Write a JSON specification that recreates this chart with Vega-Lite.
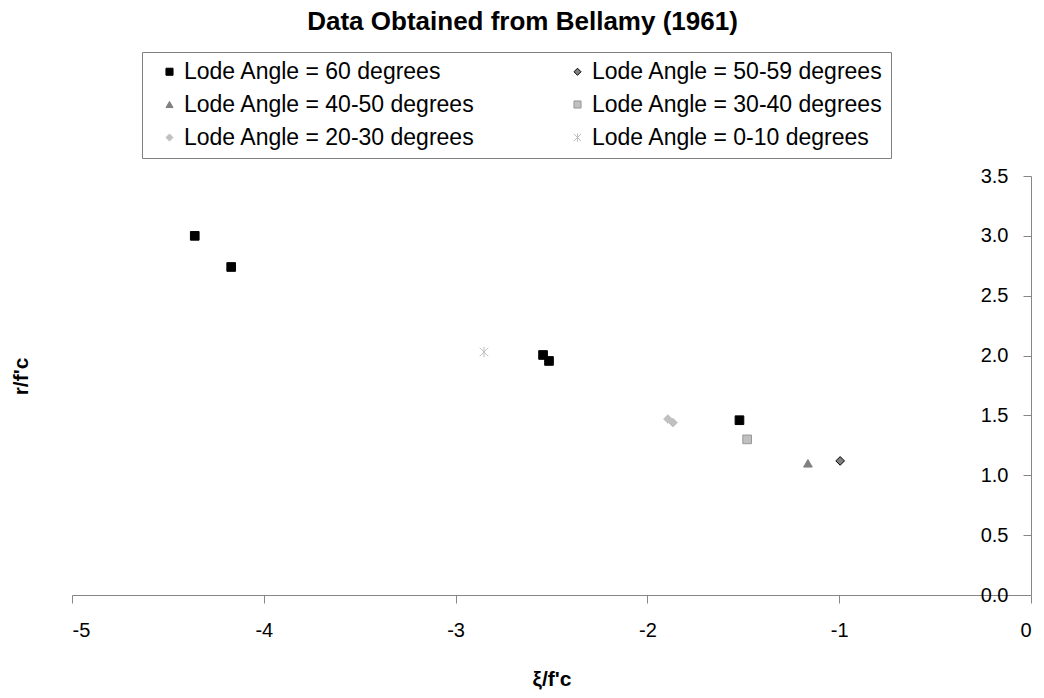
{
  "$schema": "https://vega.github.io/schema/vega-lite/v6.json",
  "width": 959,
  "height": 419,
  "autosize": {"type": "none"},
  "padding": {"left": 72, "top": 176, "right": 13, "bottom": 103},
  "background": "white",
  "title": {
    "text": "Data Obtained from Bellamy (1961)",
    "font": "Liberation Sans",
    "fontSize": 26,
    "fontWeight": "bold",
    "color": "#000000",
    "anchor": "middle",
    "offset": 17,
    "dx": -29
  },
  "data": {
    "values": [
      {"series": "Lode Angle = 60 degrees", "xi": -4.36, "r": 3.0},
      {"series": "Lode Angle = 60 degrees", "xi": -4.17, "r": 2.74},
      {"series": "Lode Angle = 60 degrees", "xi": -2.544, "r": 2.005},
      {"series": "Lode Angle = 60 degrees", "xi": -2.513, "r": 1.955},
      {"series": "Lode Angle = 60 degrees", "xi": -1.52, "r": 1.46},
      {"series": "Lode Angle = 50-59 degrees", "xi": -0.995, "r": 1.12},
      {"series": "Lode Angle = 40-50 degrees", "xi": -1.163, "r": 1.1},
      {"series": "Lode Angle = 30-40 degrees", "xi": -1.48, "r": 1.3},
      {"series": "Lode Angle = 20-30 degrees", "xi": -1.893, "r": 1.47},
      {"series": "Lode Angle = 20-30 degrees", "xi": -1.867, "r": 1.44},
      {"series": "Lode Angle = 0-10 degrees", "xi": -2.852, "r": 2.03}
    ]
  },
  "mark": {"type": "point", "filled": true, "opacity": 1, "size": 75, "strokeWidth": 1},
  "encoding": {
    "x": {
      "field": "xi",
      "type": "quantitative",
      "scale": {"domain": [-5, 0], "nice": false, "zero": false},
      "axis": {
        "orient": "bottom",
        "title": "ξ/f'c",
        "values": [-5, -4, -3, -2, -1, 0],
        "labelExpr": "'' + datum.value",
        "grid": false,
        "domainColor": "#868686",
        "tickColor": "#868686",
        "tickSize": 8,
        "labelFont": "Liberation Sans",
        "labelFontSize": 20,
        "labelColor": "#000000",
        "labelPadding": 17,
        "titleFont": "Liberation Sans",
        "titleFontSize": 21,
        "titleFontWeight": "bold",
        "titleColor": "#000000",
        "titlePadding": 28
      }
    },
    "y": {
      "field": "r",
      "type": "quantitative",
      "scale": {"domain": [0, 3.5], "nice": false, "zero": false},
      "axis": {
        "orient": "left",
        "offset": -959,
        "title": "r/f'c",
        "values": [0, 0.5, 1, 1.5, 2, 2.5, 3, 3.5],
        "format": ".1f",
        "grid": false,
        "domainColor": "#868686",
        "tickColor": "#868686",
        "tickSize": 8,
        "labelFont": "Liberation Sans",
        "labelFontSize": 20,
        "labelColor": "#000000",
        "labelPadding": 15,
        "titleFont": "Liberation Sans",
        "titleFontSize": 21,
        "titleFontWeight": "bold",
        "titleColor": "#000000",
        "titleAngle": 270,
        "titleX": -1000,
        "titleY": 200
      }
    },
    "shape": {
      "field": "series",
      "type": "nominal",
      "scale": {
        "domain": ["Lode Angle = 60 degrees", "Lode Angle = 40-50 degrees", "Lode Angle = 20-30 degrees", "Lode Angle = 50-59 degrees", "Lode Angle = 30-40 degrees", "Lode Angle = 0-10 degrees"],
        "range": ["square", "triangle-up", "diamond", "diamond", "square", "M-1,-1L1,1M-1,1L1,-1M0,-1.2L0,1.2"]
      }
    },
    "fill": {
      "field": "series",
      "type": "nominal",
      "scale": {
        "domain": ["Lode Angle = 60 degrees", "Lode Angle = 40-50 degrees", "Lode Angle = 20-30 degrees", "Lode Angle = 50-59 degrees", "Lode Angle = 30-40 degrees", "Lode Angle = 0-10 degrees"],
        "range": ["#000000", "#808080", "#c0c0c0", "#808080", "#c0c0c0", "#c0c0c0"]
      }
    },
    "stroke": {
      "field": "series",
      "type": "nominal",
      "scale": {
        "domain": ["Lode Angle = 60 degrees", "Lode Angle = 40-50 degrees", "Lode Angle = 20-30 degrees", "Lode Angle = 50-59 degrees", "Lode Angle = 30-40 degrees", "Lode Angle = 0-10 degrees"],
        "range": ["#000000", "#808080", "#c0c0c0", "#000000", "#969696", "#c0c0c0"]
      }
    }
  },
  "config": {
    "view": {"stroke": null},
    "legend": {
      "orient": "none",
      "legendX": 70,
      "legendY": -124,
      "columns": 2,
      "title": null,
      "labelFont": "Liberation Sans",
      "labelFontSize": 23,
      "labelColor": "#000000",
      "labelLimit": 400,
      "labelOffset": 3,
      "strokeColor": "#808080",
      "padding": 8,
      "symbolOffset": 8,
      "columnPadding": 83,
      "rowPadding": 9,
      "symbolSize": 50,
      "symbolStrokeWidth": 1
    }
  }
}
